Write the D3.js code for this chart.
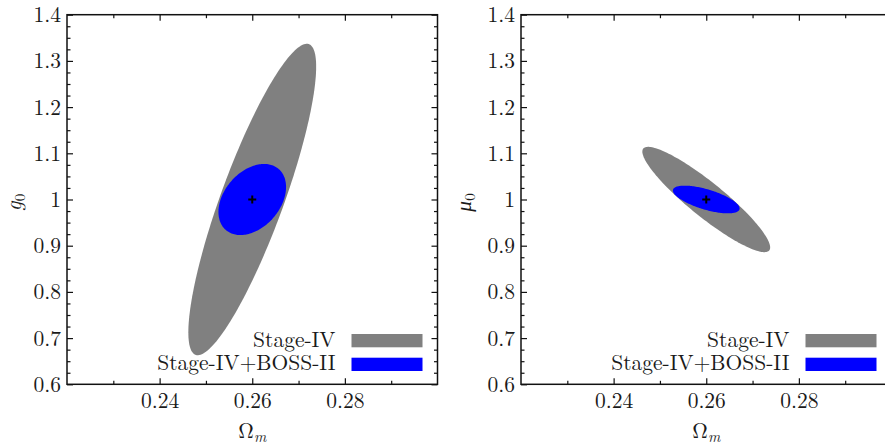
<!DOCTYPE html>
<html>
<head>
<meta charset="utf-8">
<script src="https://cdn.jsdelivr.net/npm/d3@7"></script>
<style>
  html, body { margin: 0; padding: 0; background: #fff; overflow: hidden; }
  svg { display: block; }
</style>
</head>
<body>
<svg id="chart" width="885" height="447"></svg>
<script>
// ---------------- data ----------------
const fiducialOm = 0.26;
const fiducialParam = 1.0;
const paramSymbols = ["g", "μ"];            // y-axis parameter of each panel
const legendLabels = ["Stage-IV", "Stage-IV+BOSS-II"];
const seriesColors = ["#808080", "#0000ff"];
// contour half-extents (Ω_m, parameter) and correlation, per panel
const stage4HalfOm    = [0.0138, 0.0138];
const stage4HalfParam = [0.337, 0.114];
const stage4Rho       = [0.853, -0.91];
const comboHalfOm     = [0.0073, 0.0072];
const comboHalfParam  = [0.077, 0.030];
const comboRho        = [0.35, -0.65];
const xTicks = [0.24, 0.26, 0.28];
const xMinorTicks = [0.23, 0.25, 0.27, 0.29];
const yTicks = [0.6, 0.7, 0.8, 0.9, 1.0, 1.1, 1.2, 1.3, 1.4];
const xDomain = [0.22, 0.30];
const yDomain = [0.6, 1.4];

// ---------------- layout ----------------
const svg = d3.select("#chart");
const panelLeft = [67, 521];
const panelW = 370.5;
const plotTop = 14.7, plotBottom = 384.3;
const FONT = '"Latin Modern Roman", "Liberation Serif", serif';
const FS = 21.5;
const TXT = "#1a1a1a";

function ellipsePoints(cx, cy, hx, hy, rho) {
  const s = Math.sqrt(1 - rho * rho);
  return d3.range(0, 361, 2).map(deg => {
    const p = deg * Math.PI / 180;
    return [cx + hx * Math.cos(p), cy + hy * (rho * Math.cos(p) + s * Math.sin(p))];
  });
}

const yMinor = d3.range(0.6, 1.4001, 0.025).filter(v => Math.abs(v * 10 - Math.round(v * 10)) > 1e-6);

[0, 1].forEach(i => {
  const x0 = panelLeft[i];
  const x = d3.scaleLinear().domain(xDomain).range([x0, x0 + panelW]);
  const y = d3.scaleLinear().domain(yDomain).range([plotBottom, plotTop]);
  const g = svg.append("g");

  const line = d3.line().x(d => x(d[0])).y(d => y(d[1]));

  g.append("path")
    .attr("d", line(ellipsePoints(fiducialOm, fiducialParam, stage4HalfOm[i], stage4HalfParam[i], stage4Rho[i])) + "Z")
    .attr("fill", seriesColors[0]);
  g.append("path")
    .attr("d", line(ellipsePoints(fiducialOm, fiducialParam, comboHalfOm[i], comboHalfParam[i], comboRho[i])) + "Z")
    .attr("fill", seriesColors[1]);

  // fiducial cross
  const cxp = x(fiducialOm), cyp = y(fiducialParam);
  g.append("path")
    .attr("d", `M${cxp - 4},${cyp}H${cxp + 4}M${cxp},${cyp - 4}V${cyp + 4}`)
    .attr("stroke", "#000").attr("stroke-width", 2);

  // axes with inward ticks on all four sides
  const majorLen = 6, minorLen = 3.5;
  const axB = d3.axisBottom(x).tickValues(xTicks).tickSize(-majorLen).tickFormat(d3.format(".2f"));
  const axT = d3.axisTop(x).tickValues(xTicks).tickSize(-majorLen).tickFormat("");
  const axBm = d3.axisBottom(x).tickValues(xMinorTicks).tickSize(-minorLen).tickFormat("");
  const axTm = d3.axisTop(x).tickValues(xMinorTicks).tickSize(-minorLen).tickFormat("");
  const axL = d3.axisLeft(y).tickValues(yTicks).tickSize(-majorLen).tickFormat(d => String(+d.toFixed(1)));
  const axR = d3.axisRight(y).tickValues(yTicks).tickSize(-majorLen).tickFormat("");
  const axLm = d3.axisLeft(y).tickValues(yMinor).tickSize(-minorLen).tickFormat("");
  const axRm = d3.axisRight(y).tickValues(yMinor).tickSize(-minorLen).tickFormat("");

  const xr = x0 + panelW;
  const put = (ax, tr) => {
    const a = g.append("g").attr("transform", tr).call(ax);
    a.attr("font-family", FONT).attr("font-size", FS);
    a.select(".domain").remove();
    a.selectAll("line").attr("stroke", "#111").attr("stroke-width", 1.2);
    a.selectAll("text").style("font-family", FONT).style("font-size", FS + "px").attr("fill", TXT);
    return a;
  };
  const bAx = put(axB, `translate(0,${plotBottom})`);
  bAx.selectAll("text").attr("dy", null).attr("y", 23.4);
  put(axT, `translate(0,${plotTop})`);
  put(axBm, `translate(0,${plotBottom})`);
  put(axTm, `translate(0,${plotTop})`);
  const lAx = put(axL, `translate(${x0},0)`);
  lAx.selectAll("text").attr("dy", null).attr("y", 7).attr("x", -6);
  put(axR, `translate(${xr},0)`);
  put(axLm, `translate(${x0},0)`);
  put(axRm, `translate(${xr},0)`);

  // frame
  g.append("rect")
    .attr("x", x0).attr("y", plotTop).attr("width", panelW).attr("height", plotBottom - plotTop)
    .attr("fill", "none").attr("stroke", "#111").attr("stroke-width", 1.5);

  // axis labels
  const xl = g.append("text")
    .attr("x", (x0 + xr) / 2).attr("y", 438)
    .attr("text-anchor", "middle").attr("fill", TXT)
    .style("font-family", FONT).style("font-size", FS + "px");
  xl.append("tspan").text("Ω");
  xl.append("tspan").attr("font-style", "italic").style("font-size", "15px").attr("dy", 4).text("m");

  const ylx = i === 0 ? 21 : 471;
  const yl = g.append("text")
    .attr("transform", `translate(${ylx},${(plotTop + plotBottom) / 2 + 3}) rotate(-90)`)
    .attr("text-anchor", "middle").attr("fill", TXT)
    .style("font-family", FONT).style("font-size", FS + "px");
  yl.append("tspan").attr("font-style", "italic").text(paramSymbols[i]);
  yl.append("tspan").style("font-size", "15px").attr("dy", 3.5).text("0");

  // legend
  const legTextRight = xr - 102;
  const swX = xr - 86, swW = 71;
  const swY = [334, 357.7];
  const txY = [346.5, 370.3];
  legendLabels.forEach((lab, k) => {
    g.append("rect").attr("x", swX).attr("y", swY[k]).attr("width", swW).attr("height", 13.3)
      .attr("fill", seriesColors[k]);
    g.append("text").attr("x", legTextRight).attr("y", txY[k])
      .attr("text-anchor", "end").attr("fill", TXT)
      .style("font-family", FONT).style("font-size", FS + "px").text(lab);
  });
});
</script>
</body>
</html>
